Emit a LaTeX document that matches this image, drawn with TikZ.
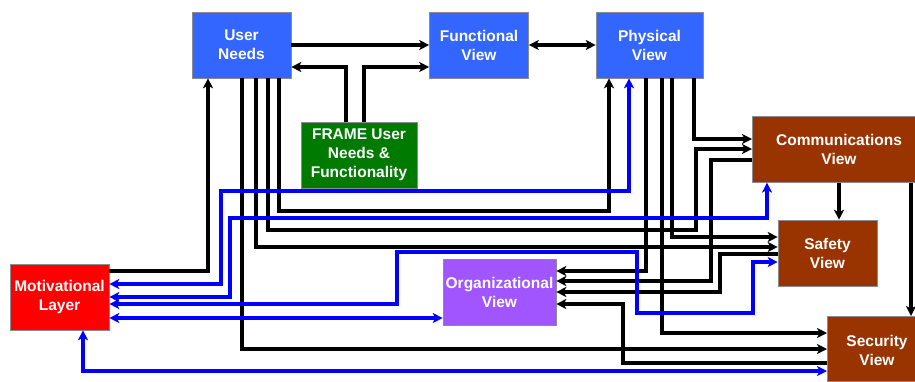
\documentclass[tikz,border=0pt]{standalone}
\usepackage{fontspec}
\setmainfont{Liberation Sans}
\usetikzlibrary{arrows.meta}
\definecolor{nblue}{RGB}{51,102,255}
\definecolor{ngreen}{RGB}{0,122,0}
\definecolor{nbrown}{RGB}{153,51,0}
\definecolor{nred}{RGB}{255,0,0}
\definecolor{npurple}{RGB}{160,85,255}
\definecolor{lblue}{RGB}{0,0,255}
\tikzset{
  box/.style={draw=black!45, line width=0.6pt, text=white,
    font=\fontsize{15.5}{19}\selectfont\bfseries, align=center,
    inner sep=0pt, minimum height=66pt},
  lbl/.style={text=white, font=\fontsize{15.5}{19}\selectfont\bfseries,
    align=center, inner sep=0pt},
  conn/.style={line width=3.1pt, draw=black},
  bconn/.style={line width=3.1pt, draw=lblue},
  >={Stealth[length=10pt,width=10pt,inset=2.6pt]}
}
\begin{document}
\begin{tikzpicture}[x=1pt,y=-1pt]
\useasboundingbox (0,0) rectangle (915,381);
% nodes
\node[box, fill=nblue, minimum width=99pt] (un) at (241.5,45) {User\\Needs};
\node[box, fill=nblue, minimum width=99pt] (fv) at (479,45) {Functional\\View};
\node[box, fill=nblue, minimum width=107pt] (pv) at (649.5,45) {Physical\\View};
\node[box, fill=ngreen, minimum width=116pt] (frame) at (359,155) {FRAME User\\Needs \&\\Functionality};
\node[box, fill=nbrown, minimum width=163pt, anchor=north west] (comm) at (752,116) {};
\node[lbl] (commt) at (839,149) {Communications\\View};
\node[box, fill=nbrown, minimum width=99pt] (saf) at (827.5,253) {Safety\\View};
\node[box, fill=nbrown, minimum width=88pt, minimum height=65pt, anchor=north west] (sec) at (827,316) {};
\node[lbl] (sect) at (877,350) {Security\\View};
\node[box, fill=nred, minimum width=99pt] (ml) at (59.5,297) {Motivational\\Layer};
\node[box, fill=npurple, minimum width=113pt] (org) at (499.5,292) {Organizational\\View};

% top connectors
\draw[conn,->] (un.east) -- (fv.west);
\draw[conn,->] (frame.north -| 346,0) |- (un.east |- 0,67);
\draw[conn,->] (frame.north -| 364,0) |- (fv.west |- 0,67);
\draw[conn,<->] (fv.east) -- (pv.west);

% user needs connectors
\draw[conn,->] (ml.east |- 0,271) -| (un.south -| 208,0);
\draw[conn,->] (un.south -| 242,0) |- (sec.west |- 0,349);
\draw[conn,->] (un.south -| 256,0) |- (saf.west |- 0,247);
\draw[conn,->] (un.south -| 268,0) |- (696,230) |- (comm.west |- 0,149);
\draw[conn,->] (un.south -| 279,0) |- (609,211) -- (pv.south -| 609,0);

% physical view connectors
\draw[conn,->] (pv.south -| 694,0) |- (comm.west |- 0,139);
\draw[conn,->] (pv.south -| 646,0) |- (org.east |- 0,271);
\draw[conn,->] (pv.south -| 662,0) |- (sec.west |- 0,333);
\draw[conn,->] (pv.south -| 672,0) |- (saf.west |- 0,237);

% into organizational
\draw[conn,->] (comm.west |- 0,160) -| (711,281) -- (org.east |- 0,281);
\draw[conn,->] (saf.west |- 0,254) -| (720,292) -- (org.east |- 0,292);
\draw[conn,->] (sec.west |- 0,363) -| (623,304) -- (org.east |- 0,304);

% communications to safety / security
\draw[conn,->] (comm.south -| 839,0) -- (saf.north -| 839,0);
\draw[conn,->] (comm.south -| 911,0) -- (sec.north -| 911,0);

% blue connectors from motivational layer
\draw[bconn,<->] (ml.east |- 0,284) -| (221,191) -| (pv.south -| 629,0);
\draw[bconn,<->] (ml.east |- 0,297) -| (230,218) -| (comm.south -| 767,0);
\draw[bconn,<->] (ml.east |- 0,304) -| (397,252) -| (637,313) -| (753,262) -- (saf.west |- 0,262);
\draw[bconn,<->] (ml.east |- 0,318) -- (org.west |- 0,318);
\draw[bconn,<->] (ml.south -| 83,0) |- (sec.west |- 0,371);
\end{tikzpicture}
\end{document}
